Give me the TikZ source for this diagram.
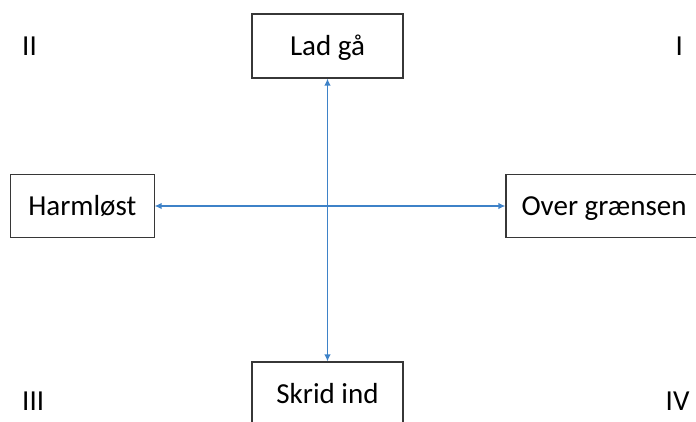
\documentclass[tikz,border=0pt]{standalone}
\usepackage{fontspec}
\setmainfont{Carlito}
\usetikzlibrary{arrows.meta}
\definecolor{arrowblue}{RGB}{62,130,200}
\definecolor{boxline}{RGB}{55,55,55}
\begin{document}
\begin{tikzpicture}[x=1pt,y=-1pt,
  box/.style={draw=boxline, line width=1.1pt, inner sep=0pt,
    text height=24pt, text depth=6pt,
    font=\fontsize{29}{34}\selectfont},
  roman/.style={inner sep=0pt, anchor=base west, font=\fontsize{29}{34}\selectfont},
  conn/.style={draw=arrowblue, line width=1.7pt,
    {Latex[length=7pt,width=6.5pt]}-{Latex[length=7pt,width=6.5pt]}}]
\useasboundingbox (0,0) rectangle (696,421);
\clip (0,0) rectangle (696,421);
\node[box, minimum width=151pt, minimum height=64pt] (lad) at (327.5,46) {Lad gå};
\node[box, minimum width=143.5pt, minimum height=63.5pt] (harm) at (82.3,206) {Harmløst};
\node[box, minimum width=196pt, minimum height=63.5pt] (over) at (604,206) {Over grænsen};
\node[box, minimum width=151pt, minimum height=64pt] (skrid) at (327.5,394) {Skrid ind};
\draw[conn] (lad.south) -- (skrid.north);
\draw[conn] (harm.east) -- (over.west);
\node[roman] (q2) at (22,55) {II};
\node[roman] (q1) at (675.5,55) {I};
\node[roman] (q3) at (22,410.5) {III};
\node[roman] (q4) at (665.5,410) {IV};
\end{tikzpicture}
\end{document}
